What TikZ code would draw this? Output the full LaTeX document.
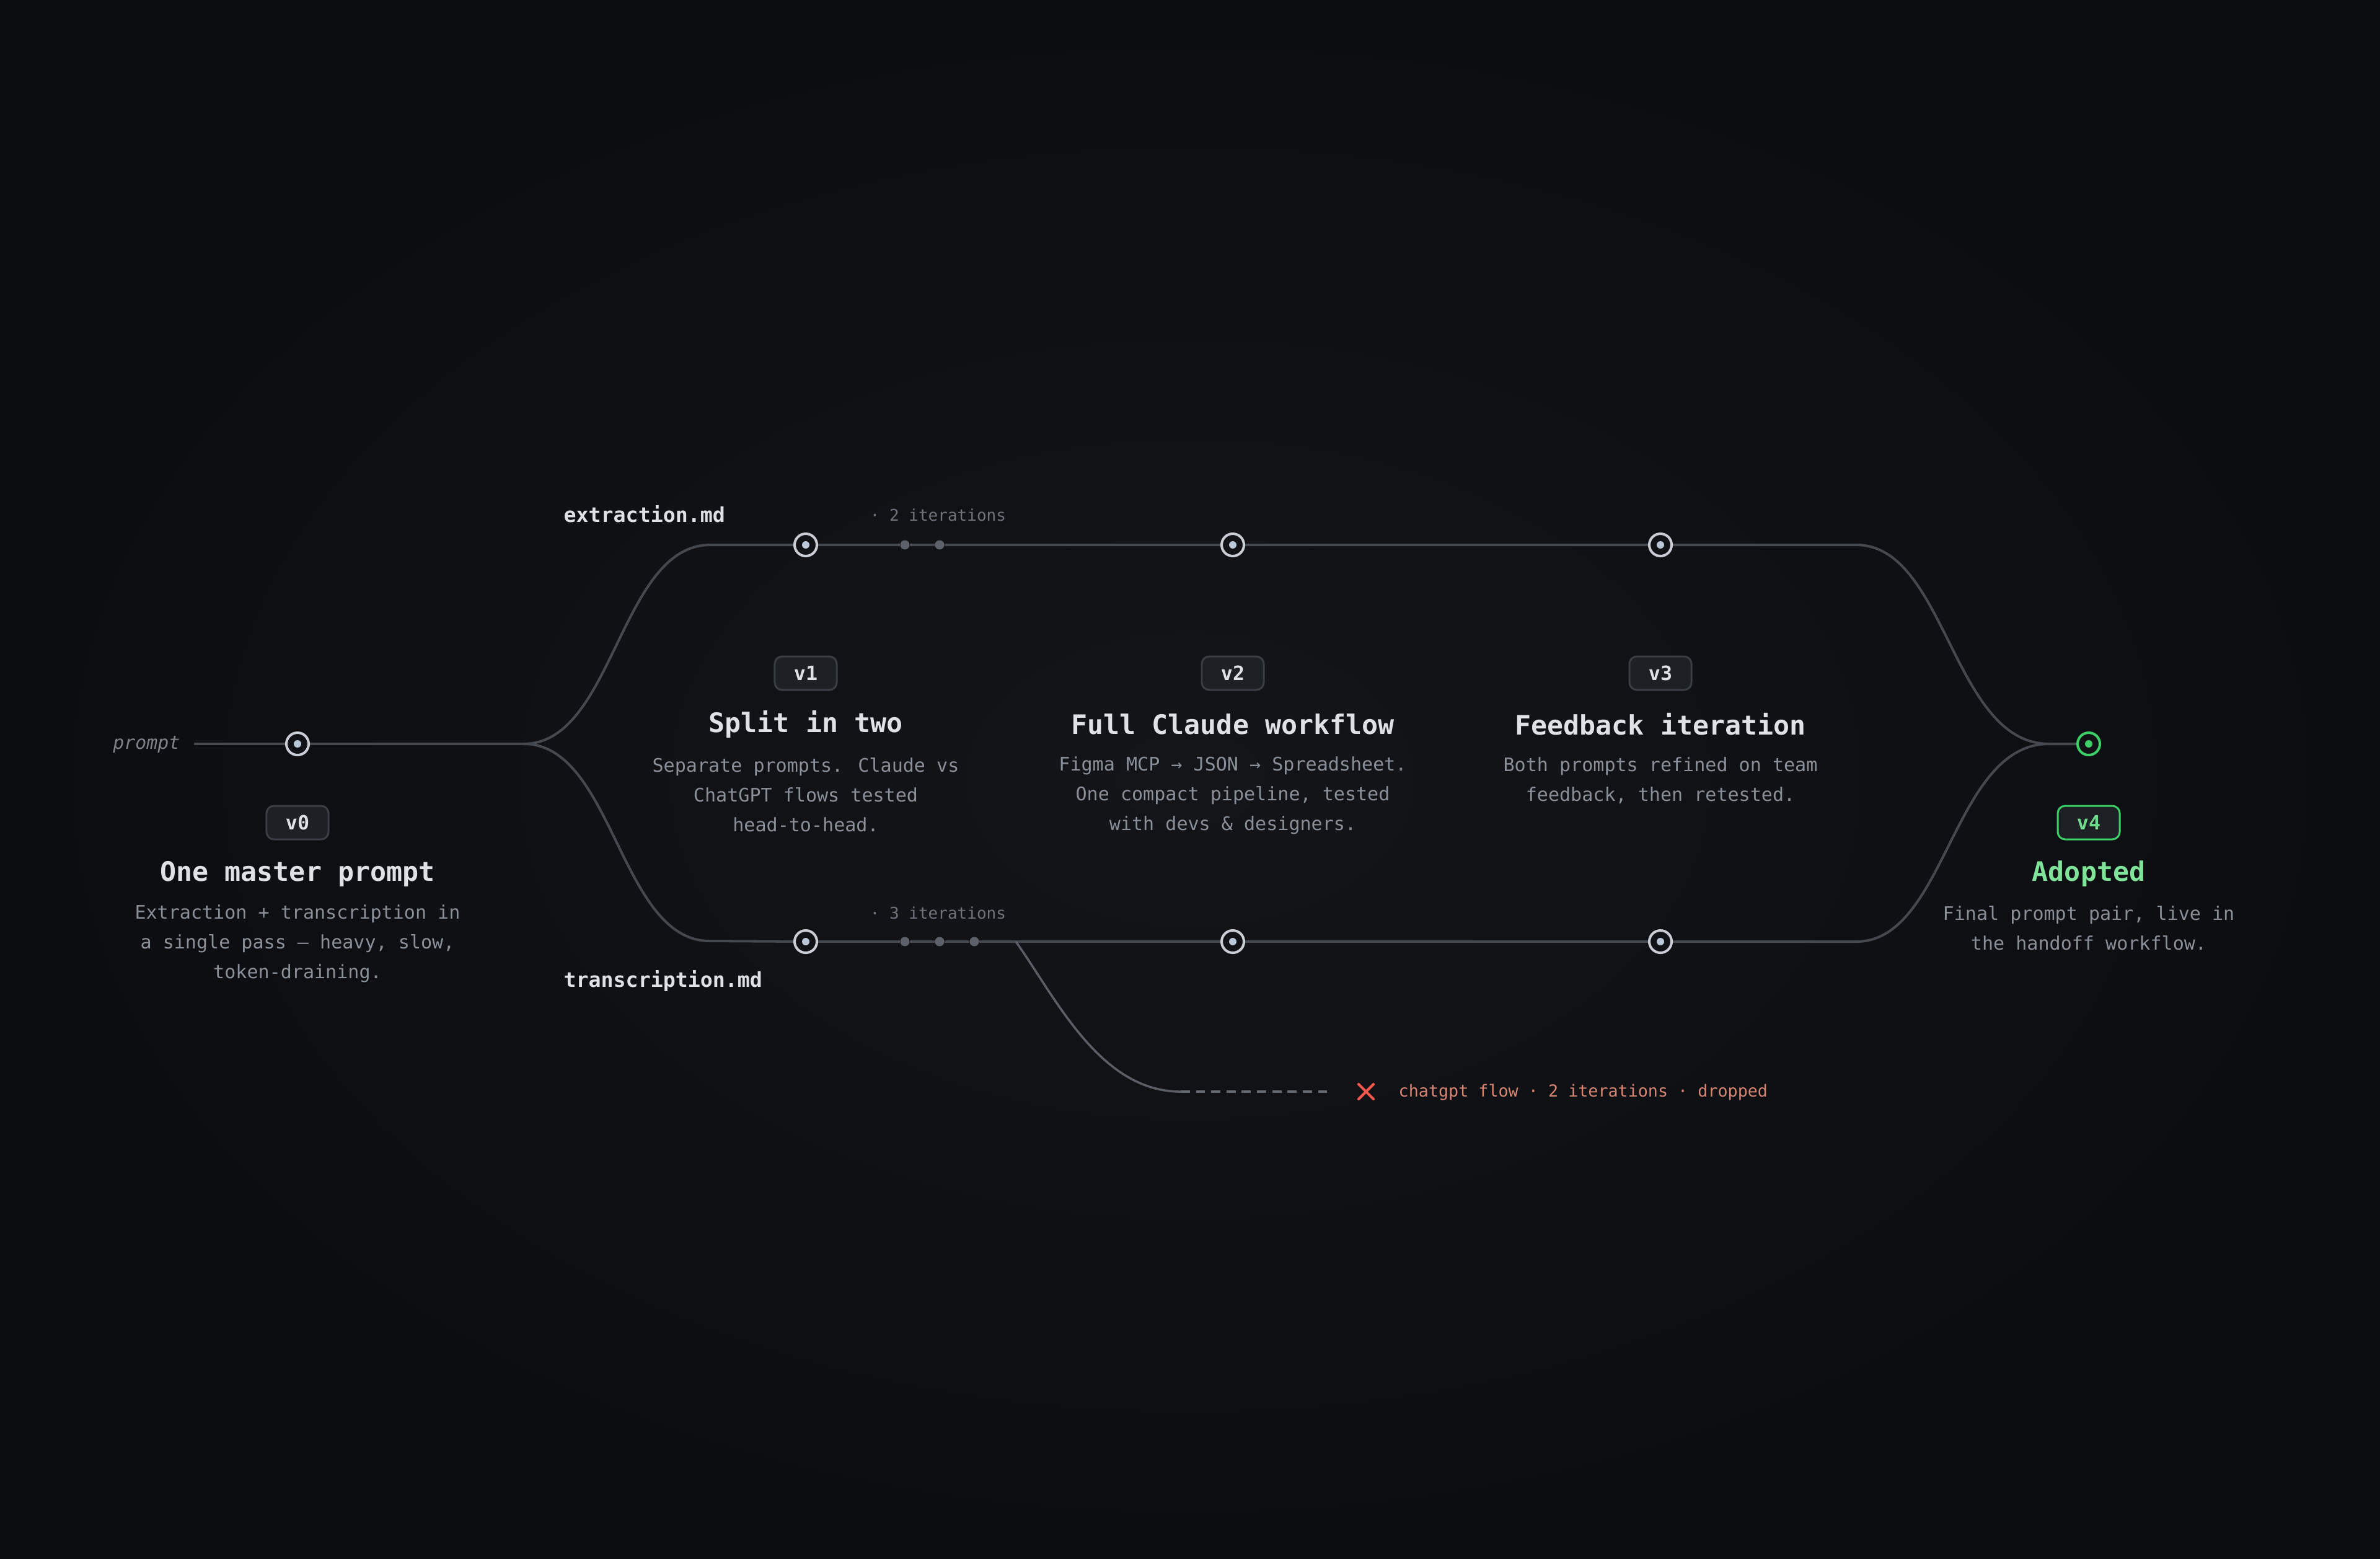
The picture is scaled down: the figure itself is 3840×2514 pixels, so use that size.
\documentclass[tikz,border=0pt]{standalone}
\usepackage{fontspec}
\setmainfont{DejaVu Sans Mono}
\definecolor{bgin}{HTML}{131519}
\definecolor{bgout}{HTML}{0C0D10}
\definecolor{bgc}{HTML}{111216}
\definecolor{linec}{HTML}{44484F}
\definecolor{dropc}{HTML}{5A5F67}
\definecolor{dashc}{HTML}{666B73}
\definecolor{ringc}{HTML}{C9CED6}
\definecolor{dotc}{HTML}{B9C7D6}
\definecolor{smalldot}{HTML}{5E636B}
\definecolor{titlec}{HTML}{DEE1E5}
\definecolor{descc}{HTML}{8A9099}
\definecolor{iterc}{HTML}{6E737C}
\definecolor{plabc}{HTML}{7D828A}
\definecolor{badgefill}{HTML}{1D2025}
\definecolor{badgeline}{HTML}{3A3E45}
\definecolor{greenring}{HTML}{3DD068}
\definecolor{greentitle}{HTML}{7FE39A}
\definecolor{greenbadge}{HTML}{6FDC8C}
\definecolor{redx}{HTML}{F2584E}
\definecolor{redtext}{HTML}{D98573}
\pgfdeclarelayer{back}
\pgfdeclarelayer{mid}
\pgfsetlayers{back,mid,main}
\tikzset{
  trunk/.style={draw=linec, line width=1.15pt},
  dropline/.style={draw=dropc, line width=1.0pt},
  dashline/.style={draw=dashc, line width=1.0pt, dash pattern=on 4.2pt off 2.8pt},
  commit/.style={circle, draw=ringc, line width=1.15pt, fill=bgc, minimum size=0.36cm, inner sep=0pt,
    path picture={\fill[dotc] (path picture bounding box.center) circle (0.06cm);}},
  commitgreen/.style={commit, draw=greenring,
    path picture={\fill[greenring] (path picture bounding box.center) circle (0.06cm);}},
  itdot/.style={circle, fill=smalldot, minimum size=0.15cm, inner sep=0pt},
  badge/.style={rectangle, rounded corners=0.12cm, draw=badgeline, fill=badgefill, line width=0.85pt,
    minimum width=1.0cm, minimum height=0.54cm, inner sep=0pt, text=titlec,
    font=\fontsize{9}{11}\selectfont\bfseries},
  badgegreen/.style={badge, draw=greenring, text=greenbadge},
  ttl/.style={text=titlec, font=\fontsize{12.3}{15}\selectfont\bfseries, inner sep=0pt},
  dsc/.style={text=descc, font=\fontsize{8.55}{13.7}\selectfont, align=center, inner sep=0pt},
  branchlabel/.style={text=titlec, font=\fontsize{9.45}{11}\selectfont\bfseries, inner sep=0pt},
  iterlabel/.style={text=iterc, font=\fontsize{7.4}{9}\selectfont, inner sep=0pt},
  plabel/.style={text=plabc, font=\fontsize{8.5}{10}\selectfont\itshape, inner sep=0pt},
  droptext/.style={text=redtext, font=\fontsize{7.6}{9}\selectfont, inner sep=0pt},
  xmark/.style={minimum size=0.3cm, inner sep=0pt,
    path picture={\draw[redx, line width=1.2pt, line cap=round]
      ($(path picture bounding box.south west)+(0.03cm,0.03cm)$) -- ($(path picture bounding box.north east)+(-0.03cm,-0.03cm)$)
      ($(path picture bounding box.north west)+(0.03cm,-0.03cm)$) -- ($(path picture bounding box.south east)+(-0.03cm,0.03cm)$);}}
}
\usetikzlibrary{calc}
\begin{document}
\begin{tikzpicture}[x=0.01cm, y=-0.01cm]
\useasboundingbox (0,0) rectangle (3840,2514);
\begin{pgfonlayer}{back}
  \shade[inner color=bgin, outer color=bgout] (0,0) rectangle (3840,2514);
\end{pgfonlayer}

% trunk nodes
\node[plabel, anchor=east] (pl) at (291,1201) {prompt};
\coordinate (ps) at (313,1200);
\node[commit] (n0) at (480,1200) {};
\coordinate (br) at (845,1200);
\coordinate (eL) at (1146,879);
\coordinate (tL) at (1146,1518);

% extraction branch
\node[commit] (e1) at (1300,879) {};
\node[itdot] (ed1) at (1460,879) {};
\node[itdot] (ed2) at (1516,879) {};
\node[commit] (e2) at (1989,879) {};
\node[commit] (e3) at (2679,879) {};
\coordinate (eR) at (2995,879);

% transcription branch
\node[commit] (t1) at (1300,1519) {};
\node[itdot] (td1) at (1460,1519) {};
\node[itdot] (td2) at (1516,1519) {};
\node[itdot] (td3) at (1572,1519) {};
\node[commit] (t2) at (1989,1519) {};
\node[commit] (t3) at (2679,1519) {};
\coordinate (tR) at (2995,1519);

% merge
\coordinate (mg) at (3306,1200);
\node[commitgreen] (n4) at (3370,1200) {};

% dropped branch
\coordinate (dS) at (1639,1519);
\coordinate (dE) at (1905,1761);
\coordinate (dD) at (2145,1761);
\node[xmark] (xm) at (2204,1761) {};
\node[droptext, anchor=west] (dt) at (2256,1762) {chatgpt flow · 2 iterations · dropped};

\begin{pgfonlayer}{mid}
  \draw[trunk] (ps) -- (n0) -- (br);
  \draw[trunk] (br) .. controls (990,1200) and (1000,879) .. (eL) -- (e1) -- (ed1) -- (ed2) -- (e2) -- (e3) -- (eR)
     .. controls (3140,879) and (3150,1200) .. (mg) -- (n4);
  \draw[trunk] (br) .. controls (990,1200) and (1000,1519) .. (tL) -- (t1) -- (td1) -- (td2) -- (td3) -- (t2) -- (t3) -- (tR)
     .. controls (3140,1519) and (3150,1200) .. (mg);
  \draw[dropline] (dS) .. controls (1705,1612) and (1775,1761) .. (dE);
  \draw[dashline] (dE) -- (dD);
\end{pgfonlayer}

% branch labels
\node[branchlabel, anchor=west] (xl) at (909,829) {extraction.md};
\node[branchlabel, anchor=west] (tl) at (909,1582) {transcription.md};
\node[iterlabel, anchor=west] (il1) at (1403,831) {· 2 iterations};
\node[iterlabel, anchor=west] (il2) at (1403,1473) {· 3 iterations};

% v0
\node[badge] (b0) at (480,1327) {v0};
\node[ttl] (h0) at (480,1410) {One master prompt};
\node[dsc] (d0) at (480,1522) {Extraction + transcription in\\a single pass — heavy, slow,\\token-draining.};

% v1
\node[badge] (b1) at (1300,1086) {v1};
\node[ttl] (h1) at (1300,1168) {Split in two};
\node[dsc] (d1) at (1300,1282) {Separate prompts. Claude vs\\ChatGPT flows tested\\head-to-head.};

% v2
\node[badge] (b2) at (1989,1086) {v2};
\node[ttl] (h2) at (1989,1168) {Full Claude workflow};
\node[dsc] (d2) at (1989,1283) {Figma MCP → JSON → Spreadsheet.\\One compact pipeline, tested\\with devs \& designers.};

% v3
\node[badge] (b3) at (2679,1086) {v3};
\node[ttl] (h3) at (2679,1168) {Feedback iteration};
\node[dsc] (d3) at (2679,1259) {Both prompts refined on team\\feedback, then retested.};

% v4
\node[badgegreen] (b4) at (3370,1327) {v4};
\node[ttl, text=greentitle] (h4) at (3370,1410) {Adopted};
\node[dsc] (d4) at (3370,1497) {Final prompt pair, live in\\the handoff workflow.};
\end{tikzpicture}
\end{document}
